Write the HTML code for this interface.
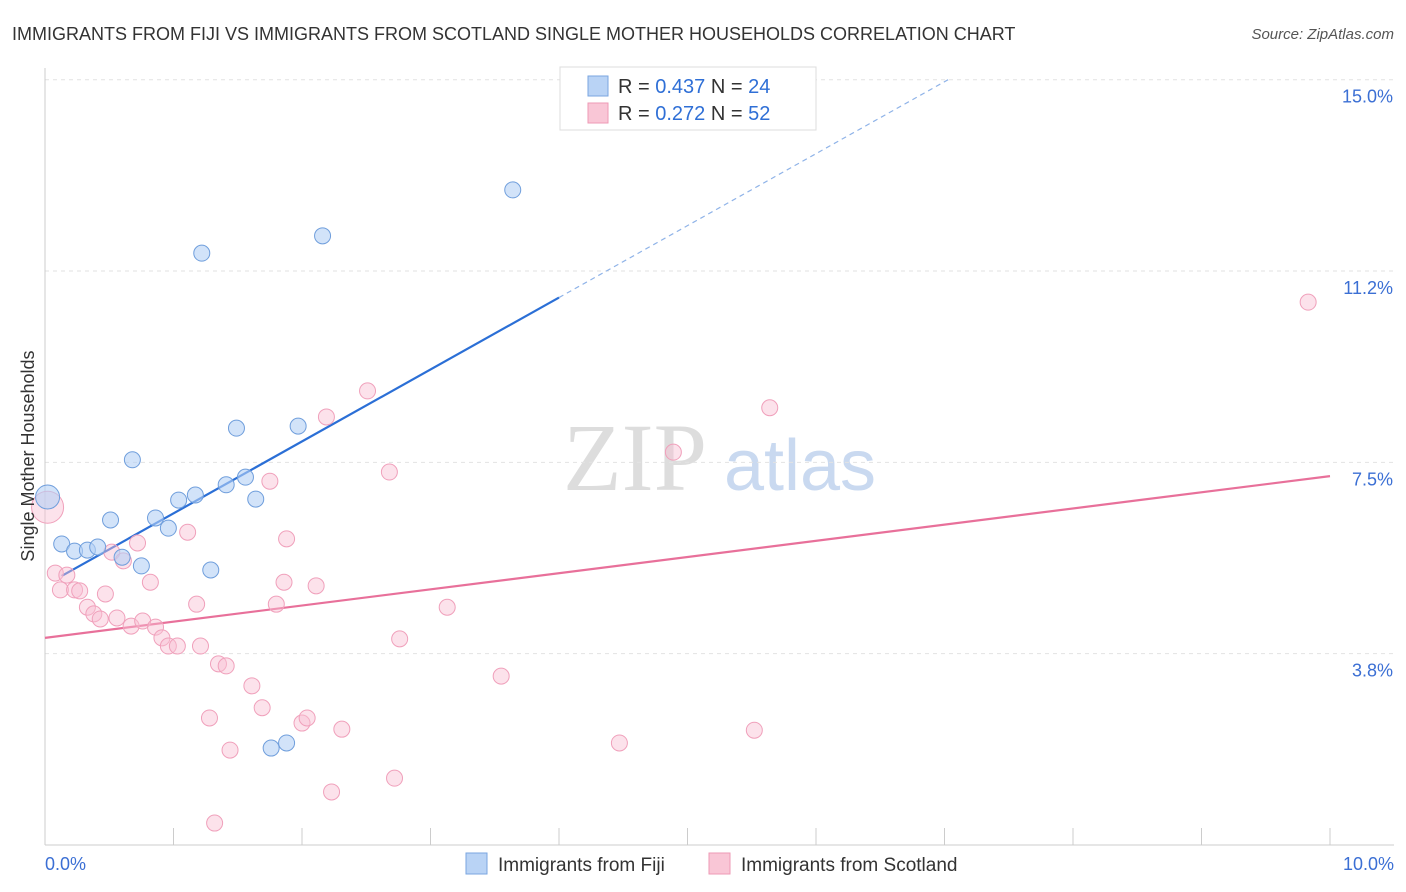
<!DOCTYPE html>
<html><head><meta charset="utf-8"><style>
body{margin:0;background:#fff;font-family:"Liberation Sans",sans-serif;}
svg{display:block}
</style></head><body>
<svg id="chart" width="1406" height="892" xmlns="http://www.w3.org/2000/svg">
<text x="12" y="40" font-size="18" fill="#333">IMMIGRANTS FROM FIJI VS IMMIGRANTS FROM SCOTLAND SINGLE MOTHER HOUSEHOLDS CORRELATION CHART</text>
<text x="1394" y="39" font-size="15" fill="#555" font-style="italic" text-anchor="end">Source: ZipAtlas.com</text>
<g>
<text x="635" y="490" font-size="96" fill="#ddd" font-family="Liberation Serif,serif" text-anchor="middle">ZIP</text>
<text x="800" y="490" font-size="72" fill="#c9d9f0" text-anchor="middle">atlas</text>
</g>
<g id="grid"></g>
<g id="axes"></g>
<g id="trends"></g>
<g id="points"></g>
<text transform="translate(34,456) rotate(-90)" font-size="18" fill="#333" text-anchor="middle">Single Mother Households</text>
<g>
<rect x="560" y="67" width="256" height="63" fill="#fff" stroke="#ddd"/>
<rect x="588" y="76" width="20" height="20" fill="#b9d3f5" stroke="#7aa6e0"/>
<rect x="588" y="103" width="20" height="20" fill="#f9c6d6" stroke="#ee9ab5"/>
<text x="618" y="93" font-size="20" fill="#333">R = <tspan fill="#2f6fd6">0.437</tspan>   N = <tspan fill="#2f6fd6">24</tspan></text>
<text x="618" y="120" font-size="20" fill="#333">R = <tspan fill="#2f6fd6">0.272</tspan>   N = <tspan fill="#2f6fd6">52</tspan></text>
</g>
<g>
<rect x="466" y="853" width="21" height="21" fill="#b9d3f5" stroke="#7aa6e0"/>
<text x="498" y="871" font-size="19" fill="#333">Immigrants from Fiji</text>
<rect x="709" y="853" width="21" height="21" fill="#f9c6d6" stroke="#ee9ab5"/>
<text x="741" y="871" font-size="19" fill="#333">Immigrants from Scotland</text>
</g>
</svg>
<script>
const yTicks=[3.8,7.5,11.2,15.0];
const yTickVals=[3.75,7.5,11.25,15];
const xTickLabels=["0.0%","10.0%"];
const fijiX=[0.02,0.13,0.23,0.33,0.41,0.51,0.60,0.68,0.75,0.86,0.96,1.04,1.17,1.22,1.29,1.41,1.49,1.56,1.64,1.76,1.88,1.97,2.16,3.64];
const fijiY=[6.82,5.90,5.76,5.78,5.84,6.37,5.64,7.55,5.47,6.41,6.21,6.76,6.86,11.60,5.39,7.06,8.17,7.21,6.78,1.90,2.00,8.21,11.94,12.84];
const scotX=[0.02,0.08,0.17,0.12,0.23,0.27,0.33,0.38,0.43,0.47,0.52,0.56,0.61,0.67,0.72,0.76,0.82,0.86,0.91,0.96,1.03,1.11,1.18,1.21,1.28,1.35,1.32,1.41,1.44,1.61,1.69,1.75,1.80,1.86,1.88,2.00,2.04,2.11,2.19,2.23,2.31,2.51,2.68,2.72,2.76,3.13,3.55,4.47,4.89,5.52,5.64,9.83];
const scotY=[6.62,5.33,5.29,5.00,5.00,4.98,4.66,4.53,4.43,4.92,5.74,4.45,5.57,4.29,5.92,4.39,5.15,4.27,4.06,3.90,3.90,6.13,4.72,3.90,2.49,3.55,0.43,3.51,1.86,3.12,2.69,7.13,4.72,5.15,6.00,2.39,2.49,5.08,8.39,1.04,2.27,8.90,7.31,1.31,4.04,4.66,3.31,2.00,7.70,2.25,8.57,10.64];
const fijiTrend=[5.09,1.41];
const scotTrend=[4.06,0.317];
const NS="http://www.w3.org/2000/svg";
const X=v=>45+v*128.5, Y=v=>845-v*51.02;
function mk(t,a,p){const e=document.createElementNS(NS,t);for(const k in a)e.setAttribute(k,a[k]);p.appendChild(e);return e;}
const grid=document.getElementById('grid'),axes=document.getElementById('axes');
yTickVals.forEach((v,i)=>{
 const l=mk('line',{x1:45,x2:1394,y1:Y(v),y2:Y(v),stroke:'#e2e2e2','stroke-dasharray':'4,4'},grid);
 
 
 const t=mk('text',{x:1393,y:Y(v)+23,'font-size':18,fill:'#3b6fd4','text-anchor':'end'},axes);
 t.textContent=yTicks[i].toFixed(1)+'%';
 
 
});
mk('line',{x1:45,x2:45,y1:68,y2:845,stroke:'#ccc'},axes);
mk('line',{x1:45,x2:1394,y1:845,y2:845,stroke:'#ccc'},axes);
for(let i=0;i<=10;i++){const l=mk('line',{x1:X(i),x2:X(i),y1:828,y2:845,stroke:'#ccc'},axes);
 
 }
[[0,45,'start'],[10,1394,'end']].forEach((a,i)=>{const t=mk('text',{x:a[1],y:870,'font-size':18,fill:'#3b6fd4','text-anchor':a[2]},axes);t.textContent=xTickLabels[i];
 
 });
const tr=document.getElementById('trends');
const f=x=>fijiTrend[0]+fijiTrend[1]*x, s=x=>scotTrend[0]+scotTrend[1]*x;
let l=mk('line',{x1:X(0.13),y1:Y(f(0.13)),x2:X(4.0),y2:Y(f(4.0)),stroke:'#2b6fd6','stroke-width':2.2},tr);


const xe=(15-fijiTrend[0])/fijiTrend[1];
l=mk('line',{x1:X(4.0),y1:Y(f(4.0)),x2:X(xe),y2:Y(f(xe)),stroke:'#8fb3e8','stroke-width':1.2,'stroke-dasharray':'5,4'},tr);


l=mk('line',{x1:X(0),y1:Y(s(0)),x2:X(10),y2:Y(s(10)),stroke:'#e8709a','stroke-width':2.2},tr);


const pg=document.getElementById('points');
scotX.forEach((x,i)=>{const c=mk('circle',{cx:X(x),cy:Y(scotY[i]),r:i==0?16:8,fill:'rgba(249,190,210,0.45)',stroke:'#f0a0bb','stroke-width':1},pg);
 
 });
fijiX.forEach((x,i)=>{const c=mk('circle',{cx:X(x),cy:Y(fijiY[i]),r:i==0?12:8,fill:'rgba(180,208,245,0.6)',stroke:'#6f9edc','stroke-width':1},pg);
 
 });
</script>
</body></html>
